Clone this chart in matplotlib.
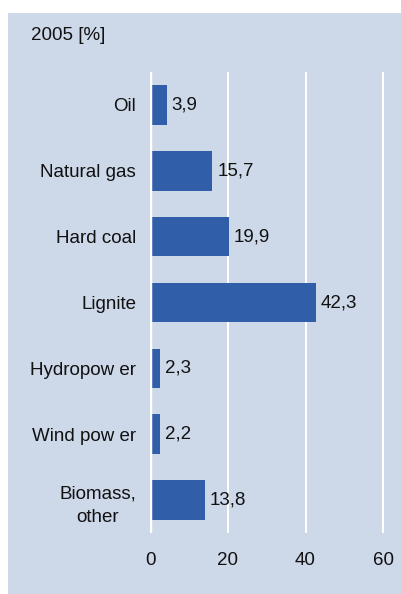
import matplotlib.pyplot as plt
from matplotlib.patches import Rectangle

# Data
categories = ["Oil", "Natural gas", "Hard coal", "Lignite",
              "Hydropow er", "Wind pow er", "Biomass,\nother"]
shares = [3.9, 15.7, 19.9, 42.3, 2.3, 2.2, 13.8]
value_labels = ["3,9", "15,7", "19,9", "42,3", "2,3", "2,2", "13,8"]
x_ticks = [0, 20, 40, 60]

BG = "#CDD8E9"
BAR = "#315EA9"
FS = 13.5

plt.rcParams['font.family'] = ['Liberation Sans', 'DejaVu Sans']

fig = plt.figure(figsize=(4.02, 5.94), dpi=100)
fig.patch.set_facecolor("white")

# light blue panel behind everything
panel = Rectangle((8 / 402, 0), 1 - 8 / 402, 1 - 13 / 594,
                  transform=fig.transFigure, facecolor=BG, edgecolor="none", zorder=-10)
fig.patches.append(panel)

ax = fig.add_axes([150 / 402, 1 - 533 / 594, (383.3 - 150) / 402 * 60.6 / 60, (533 - 72) / 594])
ax.set_facecolor("none")

y = list(range(len(categories)))
ax.barh(y, shares, height=0.6, color=BAR, left=0.35, zorder=2)
ax.set_ylim(6.5, -0.5)
ax.set_xlim(0, 60.6)

for yi, v, lab in zip(y, shares, value_labels):
    ax.text(v + 0.35 + 1.3, yi, lab, va="center", ha="left", fontsize=FS, color="#111111")

ax.set_yticks(y)
ax.set_yticklabels(categories, fontsize=FS, color="#111111")
for lbl in ax.get_yticklabels():
    lbl.set_multialignment("center")
    lbl.set_linespacing(1.55)
ax.set_xticks(x_ticks)
ax.set_xticklabels([str(t) for t in x_ticks], fontsize=FS, color="#111111")
ax.tick_params(axis="both", length=0)
ax.tick_params(axis="y", pad=10)
ax.tick_params(axis="x", pad=14)

for t in x_ticks[1:]:
    ax.axvline(t, color="white", lw=1.5, zorder=1)
ax.axvline(0, color="white", lw=2.5, zorder=3)

for s in ax.spines.values():
    s.set_visible(False)

fig.text(31 / 402, 1 - 36 / 594, "2005 [%]", fontsize=FS, color="#111111", va="center", ha="left")

fig.savefig("out.png", dpi=100, facecolor=fig.get_facecolor())
